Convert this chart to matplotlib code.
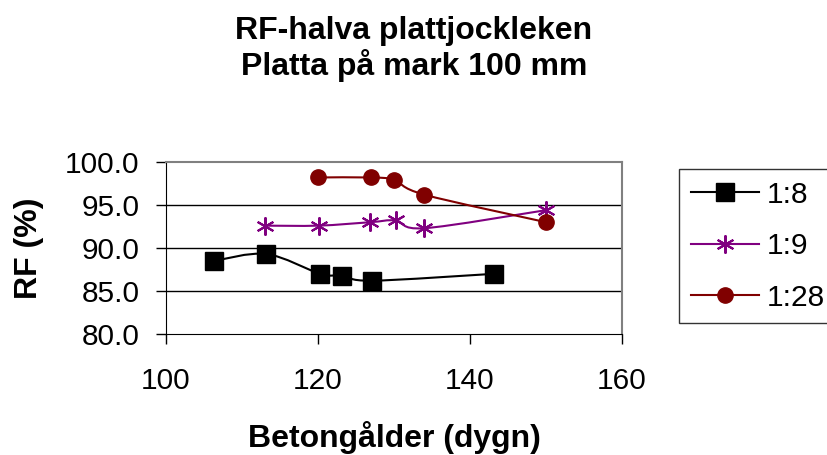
import numpy as np
import matplotlib.pyplot as plt
from matplotlib.path import Path
from matplotlib.patches import PathPatch
from matplotlib.lines import Line2D

plt.rcParams['font.family'] = ['Liberation Sans', 'DejaVu Sans']

# data
x18 = [106.3, 113.2, 120.3, 123.2, 127.1, 143.2]
y18 = [88.5, 89.3, 87.0, 86.8, 86.2, 87.0]
x19 = [113.0, 120.1, 126.9, 130.2, 134.0, 150.0]
y19 = [92.6, 92.6, 93.0, 93.2, 92.3, 94.4]
x128 = [120.0, 127.0, 130.0, 134.0, 150.0]
y128 = [98.2, 98.2, 97.9, 96.2, 93.0]
names = ["1:8", "1:9", "1:28"]
xticks = [100, 120, 140, 160]
yticks = [80, 85, 90, 95, 100]


def smooth_path(xs, ys):
    # excel-like smoothed line: bezier segments through the points
    p = np.column_stack([xs, ys])
    verts = [p[0]]
    codes = [Path.MOVETO]
    n = len(p)
    for i in range(n - 1):
        p0 = p[i - 1] if i > 0 else p[i]
        p3 = p[i + 2] if i + 2 < n else p[i + 1]
        c1 = p[i] + (p[i + 1] - p0) / 6.0
        c2 = p[i + 1] - (p3 - p[i]) / 6.0
        verts += [c1, c2, p[i + 1]]
        codes += [Path.CURVE4] * 3
    return Path(verts, codes)


fig = plt.figure(figsize=(8.28, 4.55), dpi=100)
ax = fig.add_axes([166 / 828, 1 - 334 / 455, (622 - 166) / 828, (334 - 162) / 455])

series = [
    (x18, y18, "black", "s", 13, 1),
    (x19, y19, "#800080", (6, 2, 0), 13, 1.5),
    (x128, y128, "#800000", "o", 11, 1),
]
handles = []
for (xs, ys, col, mk, ms, mew), name in zip(series, names):
    ax.add_patch(PathPatch(smooth_path(xs, ys), fill=False, edgecolor=col, lw=1.5, zorder=3))
    ax.plot(xs, ys, linestyle="none", marker=mk, markersize=ms, color=col,
            markeredgewidth=mew, zorder=4, clip_on=False)
    handles.append(Line2D([], [], color=col, lw=1.5, marker=mk, markersize=ms,
                          markeredgewidth=mew))

ax.set_xlim(100, 160)
ax.set_ylim(80, 100)
ax.set_xticks(xticks)
ax.set_yticks(yticks)
ax.set_yticklabels(["%.1f" % v for v in yticks])
ax.tick_params(labelsize=21.5, direction="out", length=7, width=1, colors="black")
ax.tick_params(axis="y", pad=12)
ax.tick_params(axis="x", pad=17)
for v in [85, 90, 95]:
    ax.axhline(v, color="black", lw=1, zorder=1)
ax.spines["top"].set_color("#808080")
ax.spines["right"].set_color("#808080")
ax.spines["top"].set_linewidth(1.5)
ax.spines["right"].set_linewidth(1.5)

ax.set_xlabel("Betongålder (dygn)", fontsize=23, fontweight="bold", va="center")
ax.xaxis.set_label_coords(0.5, -(438 - 334) / 172)
ax.set_ylabel("RF (%)", fontsize=23, fontweight="bold", va="center")
ax.yaxis.set_label_coords(-(166 - 29) / 456, 0.5)

fig.text(0.5, 1 - 39 / 455, "RF-halva plattjockleken", ha="center", va="baseline",
         fontsize=23, fontweight="bold")
fig.text(0.5, 1 - 75 / 455, "Platta på mark 100 mm", ha="center", va="baseline",
         fontsize=23, fontweight="bold")

leg = fig.legend(handles, names, loc="upper left", bbox_to_anchor=(679 / 828, 1 - 169 / 455),
                 fontsize=21.5, frameon=True, fancybox=False, edgecolor="black",
                 handlelength=2.27, handletextpad=0.26, labelspacing=0.78,
                 borderpad=0.4, borderaxespad=0)
leg.get_frame().set_linewidth(1)

fig.savefig("out.png", dpi=100)
